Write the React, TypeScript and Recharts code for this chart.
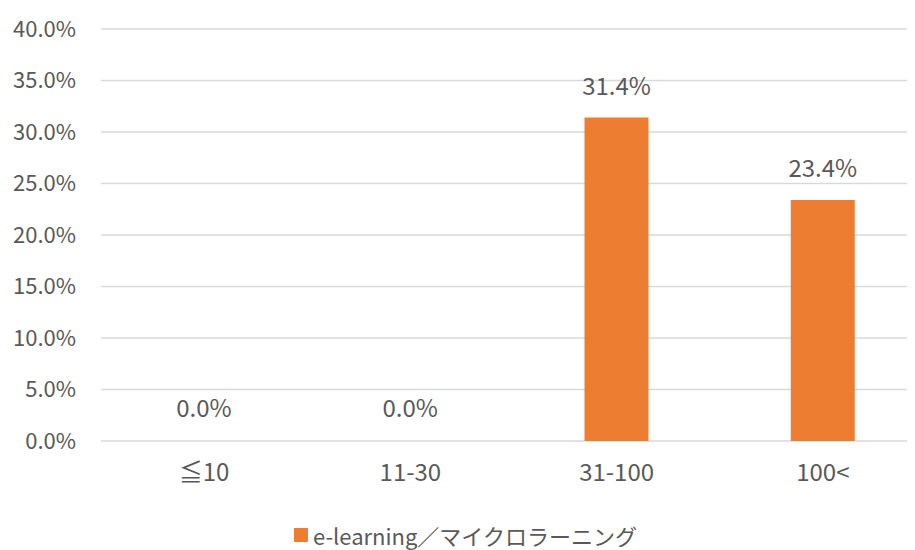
import React from 'react';
import { BarChart, Bar, XAxis, YAxis, CartesianGrid, LabelList, Legend, Cell } from 'recharts';

const categories = ['≦10', '11-30', '31-100', '100<'];
const values = [0.0, 0.0, 0.314, 0.234];
const yTicks = [0, 0.05, 0.1, 0.15, 0.2, 0.25, 0.3, 0.35, 0.4];
const seriesName = 'e-learning／マイクロラーニング';

const data = categories.map((c, i) => ({ name: c, value: values[i] }));

const FONT = '"Noto Sans CJK JP", "Noto Sans", sans-serif';
const TEXT = '#595959';
const ORANGE = '#ED7D31';

const fmt = (v: number) => `${(v * 100).toFixed(1)}%`;

const LegendContent = () => (
  <div style={{ display: 'flex', alignItems: 'center', height: 24, lineHeight: '24px', fontFamily: FONT, fontSize: 22, color: TEXT, whiteSpace: 'nowrap' }}>
    <span style={{ display: 'inline-block', width: 14, height: 14, background: ORANGE, marginRight: 5 }} />
    <span>{seriesName}</span>
  </div>
);

export default function App() {
  return (
    <div style={{ width: 907, height: 542, overflow: 'hidden', position: 'relative' }}>
      <BarChart
        width={930}
        height={542}
        data={data}
        margin={{ top: 21, right: 12, left: 0, bottom: 0 }}
      >
        <CartesianGrid vertical={false} stroke="#D9D9D9" strokeWidth={1.3} />
        <XAxis
          dataKey="name"
          axisLine={false}
          tickLine={false}
          tickSize={0}
          tickMargin={23}
          height={85}
          tick={{ fill: TEXT, fontSize: 24, fontFamily: FONT }}
          interval={0}
        />
        <YAxis
          domain={[0, 0.4]}
          ticks={yTicks}
          tickFormatter={fmt}
          axisLine={false}
          tickLine={false}
          tickSize={0}
          tickMargin={25}
          width={93}
          tick={{ fill: TEXT, fontSize: 22, fontFamily: FONT }}
        />
        <Legend
          verticalAlign="bottom"
          content={<LegendContent />}
          wrapperStyle={{ left: 286, top: 515, bottom: 'auto', width: 420, height: 24 }}
        />
        <Bar dataKey="value" name={seriesName} fill={ORANGE} barSize={64} minPointSize={1} isAnimationActive={false}>
          {data.map((d, i) => (
            <Cell key={i} fill={d.value === 0 ? 'transparent' : ORANGE} />
          ))}
          <LabelList
            dataKey="value"
            position="top"
            offset={23}
            formatter={(v: any) => fmt(Number(v))}
            style={{ fill: TEXT, fontSize: 24, fontFamily: FONT }}
          />
        </Bar>
      </BarChart>
    </div>
  );
}
